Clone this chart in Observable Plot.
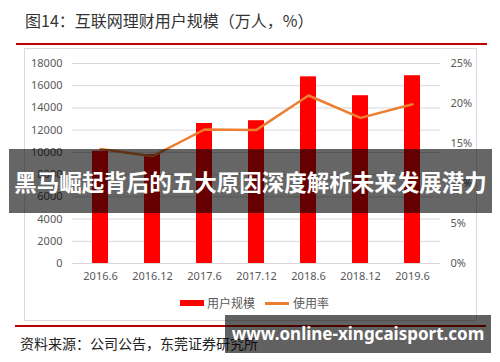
<!DOCTYPE html>
<html>
<head>
<meta charset="utf-8">
<script src="https://cdn.jsdelivr.net/npm/d3@7"></script>
<script src="https://cdn.jsdelivr.net/npm/@observablehq/plot@0.6"></script>
<style>
  html, body { margin: 0; padding: 0; background: #fff; }
  #root { position: relative; width: 500px; height: 362px; overflow: hidden; font-family: "Noto Sans CJK SC", "Noto Sans", sans-serif; }
  .abs { position: absolute; }
  #title { left: 25px; top: 8px; font-size: 16px; color: #333; white-space: nowrap; line-height: 24px; }
  #rule1 { left: 16px; top: 43px; width: 471px; height: 2px; background: #c00000; }
  #frame { left: 24px; top: 48px; width: 453px; height: 273px; border: 1px solid #d9d9d9; box-sizing: border-box; }
  #chart { left: 0; top: 0; }
  #legend { top: 295px; left: 0; width: 500px; height: 16px; font-size: 12px; color: #595959; }
  #rule2 { left: 15px; top: 325px; width: 471px; height: 2px; background: #c00000; }
  #source { left: 20px; top: 333px; font-size: 14px; color: #222; white-space: nowrap; line-height: 20px; }
  #wm1 { left: 9px; top: 149px; width: 483px; height: 64px; background: rgba(0,0,0,0.6); color: #fff; font-weight: 700; font-size: 22.5px; line-height: 64px; text-align: center; white-space: nowrap; letter-spacing: 0px; }
  #wm2 { left: 225px; top: 315px; width: 266px; height: 38px; background: rgba(0,0,0,0.62); color: #fff; font-weight: 700; font-size: 17px; line-height: 38px; text-align: center; white-space: nowrap; font-family: "Noto Sans", "DejaVu Sans", sans-serif; }
</style>
</head>
<body>
<div id="root">
  <div id="title" class="abs">图14：互联网理财用户规模（万人，%）</div>
  <div id="rule1" class="abs"></div>
  <div id="frame" class="abs"></div>
  <div id="chart" class="abs"></div>
  <div id="legend" class="abs"></div>
  <div id="rule2" class="abs"></div>
  <div id="source" class="abs">资料来源：公司公告，东莞证券研究所</div>
  <div id="wm1" class="abs">黑马崛起背后的五大原因深度解析未来发展潜力</div>
  <div id="wm2" class="abs">www.online-xingcaisport.com</div>
</div>
<script>
// Data
const periods = ["2016.6", "2016.12", "2017.6", "2017.12", "2018.6", "2018.12", "2019.6"];
const users = [10100, 9800, 12600, 12850, 16800, 15100, 16900];      // 用户规模 (万人)
const rates = [14.3, 13.4, 16.75, 16.7, 21.0, 18.2, 19.9];           // 使用率 (%)
const leftTicks = [0, 2000, 4000, 6000, 8000, 10000, 12000, 14000, 16000, 18000];
const rightTicks = [0, 5, 10, 15, 20, 25];
const seriesNames = ["用户规模", "使用率"];
const colors = ["#ff0000", "#ed7d31"];

const yMax = 18000, rMax = 25;
const toY = p => p / rMax * yMax;

const rows = periods.map((p, i) => ({period: p, users: users[i], rate: rates[i]}));

const chart = Plot.plot({
  width: 500,
  height: 290,
  marginTop: 63,
  marginBottom: 27,
  marginLeft: 72,
  marginRight: 60,
  style: {fontFamily: "'Noto Sans', 'Noto Sans CJK SC', sans-serif", fontSize: "11px", color: "#595959", background: "transparent"},
  x: {domain: periods, paddingInner: 0.7, paddingOuter: 0.35, label: null},
  y: {domain: [0, yMax], label: null},
  marks: [
    Plot.gridY(leftTicks, {stroke: "#d9d9d9", strokeOpacity: 1, strokeWidth: 1}),
    Plot.axisY(leftTicks, {anchor: "left", tickSize: 0, tickPadding: 10, label: null, tickFormat: d => String(d)}),
    Plot.axisY(rightTicks.map(toY), {anchor: "right", tickSize: 0, tickPadding: 10, label: null, tickFormat: d => Math.round(d / yMax * rMax) + "%"}),
    Plot.axisX({tickSize: 0, tickPadding: 9, label: null}),
    Plot.barY(rows, {x: "period", y: "users", fill: colors[0]}),
    Plot.line(rows, {x: "period", y: d => toY(d.rate), stroke: colors[1], strokeWidth: 2.5})
  ]
});
document.getElementById("chart").appendChild(chart);

// Legend
const legend = d3.select("#legend");
const items = [
  {name: seriesNames[0], color: colors[0], type: "rect", x: 180, tx: 207},
  {name: seriesNames[1], color: colors[1], type: "line", x: 265, tx: 293}
];
items.forEach(it => {
  legend.append("div")
    .style("position", "absolute")
    .style("left", it.x + "px")
    .style("top", it.type === "rect" ? "5px" : "6.5px")
    .style("width", "24px")
    .style("height", it.type === "rect" ? "6px" : "3px")
    .style("background", it.color);
  legend.append("div")
    .style("position", "absolute")
    .style("left", it.tx + "px")
    .style("top", "0px")
    .style("line-height", "16px")
    .style("white-space", "nowrap")
    .text(it.name);
});
</script>
</body>
</html>
